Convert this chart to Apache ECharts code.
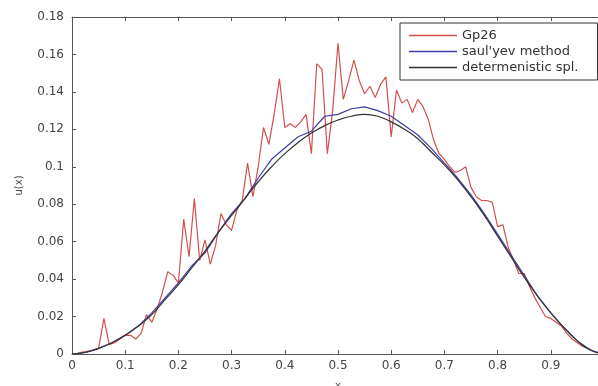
<!DOCTYPE html>
<html>
<head>
<meta charset="utf-8">
<script src="https://cdn.jsdelivr.net/npm/echarts@6/dist/echarts.min.js"></script>
<style>
  html, body { margin: 0; padding: 0; background: #fff; }
  #chart { width: 598px; height: 386px; }
</style>
</head>
<body>
<div id="chart"></div>
<script>
// Gp26 sampled every 0.01 from x = 0 to 1
var gpStep = 0.01;
var gp26 = [
  0, 0.0003, 0.001, 0.0015, 0.002, 0.003, 0.019, 0.005, 0.006, 0.008,
  0.010, 0.010, 0.008, 0.011, 0.021, 0.017, 0.024, 0.033, 0.044, 0.042,
  0.038, 0.072, 0.052, 0.083, 0.050, 0.061, 0.048, 0.058, 0.075, 0.069,
  0.066, 0.077, 0.082, 0.102, 0.084, 0.100, 0.121, 0.112, 0.128, 0.147,
  0.121, 0.123, 0.121, 0.124, 0.128, 0.107, 0.155, 0.152, 0.107, 0.130,
  0.166, 0.136, 0.146, 0.157, 0.146, 0.139, 0.143, 0.137, 0.144, 0.148,
  0.116, 0.141, 0.134, 0.136, 0.129, 0.136, 0.132, 0.125, 0.114, 0.107,
  0.104, 0.100, 0.097, 0.098, 0.100, 0.089, 0.084, 0.082, 0.082, 0.081,
  0.068, 0.069, 0.057, 0.050, 0.043, 0.043, 0.036, 0.030, 0.025, 0.020,
  0.019, 0.017, 0.015, 0.011, 0.008, 0.006, 0.004, 0.003, 0.0015, 0.0005,
  0
];

// saul'yev method and deterministic solution sampled every 0.025
var smoothStep = 0.025;
var saulyev = [
  0, 0.0008, 0.003, 0.006, 0.010, 0.015, 0.022, 0.030, 0.038, 0.047,
  0.054, 0.065, 0.075, 0.083, 0.094, 0.104, 0.110, 0.116, 0.119, 0.127,
  0.128, 0.131, 0.132, 0.130, 0.127, 0.122, 0.117, 0.110, 0.102, 0.094,
  0.085, 0.075, 0.064, 0.053, 0.042, 0.031, 0.022, 0.014, 0.007, 0.002,
  0
];
var deterministic = [
  0, 0.0008, 0.003, 0.006, 0.010, 0.015, 0.021, 0.029, 0.037, 0.046,
  0.055, 0.065, 0.074, 0.083, 0.092, 0.100, 0.107, 0.113, 0.118, 0.122,
  0.125, 0.127, 0.128, 0.127, 0.124, 0.120, 0.115, 0.108, 0.101, 0.093,
  0.084, 0.074, 0.063, 0.052, 0.041, 0.031, 0.022, 0.014, 0.007, 0.002,
  0
];

var seriesNames = ["Gp26", "saul'yev method", "determenistic spl."];

function pairs(values, step) {
  return values.map(function (v, i) {
    return [+(i * step).toFixed(3), v];
  });
}

var chart = echarts.init(document.getElementById("chart"));
var axisColor = "#555";
var labelStyle = { color: "#444", fontSize: 12, fontFamily: "DejaVu Sans" };

var option = {
  animation: false,
  backgroundColor: "#fff",
  textStyle: { fontFamily: "DejaVu Sans" },
  // plot runs past the right edge a little, x = 1 sits just off the picture
  grid: { left: 72, top: 17, width: 532, bottom: 32, outerBoundsMode: "none" },
  legend: {
    data: seriesNames,
    orient: "vertical",
    left: 400,
    top: 23,
    padding: [6, 19, 6, 9],
    icon: "rect",
    itemWidth: 48,
    itemHeight: 1.5,
    itemGap: 3,
    borderColor: "#333",
    borderWidth: 1,
    borderRadius: 0,
    backgroundColor: "#fff",
    textStyle: { color: "#333", fontSize: 13, fontFamily: "DejaVu Sans" }
  },
  xAxis: [
    {
      type: "value",
      min: 0,
      max: 1,
      interval: 0.1,
      name: "x",
      nameLocation: "middle",
      nameGap: 27,
      nameTextStyle: { color: "#444", fontSize: 10 },
      axisLine: { lineStyle: { color: axisColor } },
      axisTick: { inside: true, length: 4, lineStyle: { color: axisColor } },
      axisLabel: Object.assign({ showMaxLabel: false, margin: 6 }, labelStyle),
      splitLine: { show: false }
    },
    {
      type: "value",
      position: "top",
      min: 0,
      max: 1,
      interval: 0.1,
      axisLine: { lineStyle: { color: axisColor } },
      axisTick: { inside: true, length: 4, lineStyle: { color: axisColor } },
      axisLabel: { show: false },
      splitLine: { show: false }
    }
  ],
  yAxis: {
    type: "value",
    min: 0,
    max: 0.18,
    interval: 0.02,
    name: "u(x)",
    nameLocation: "middle",
    nameGap: 48,
    nameTextStyle: { color: "#444", fontSize: 10 },
    axisLine: { show: true, lineStyle: { color: axisColor } },
    axisTick: { show: true, inside: true, length: 4, lineStyle: { color: axisColor } },
    axisLabel: Object.assign({ margin: 8 }, labelStyle),
    splitLine: { show: false }
  },
  series: [
    {
      name: seriesNames[0],
      type: "line",
      symbol: "none",
      data: pairs(gp26, gpStep),
      lineStyle: { color: "#d2504c", width: 1.2 },
      itemStyle: { color: "#d2504c" }
    },
    {
      name: seriesNames[1],
      type: "line",
      symbol: "none",
      data: pairs(saulyev, smoothStep),
      lineStyle: { color: "#3d3fa8", width: 1.2 },
      itemStyle: { color: "#3d3fa8" }
    },
    {
      name: seriesNames[2],
      type: "line",
      symbol: "none",
      smooth: true,
      data: pairs(deterministic, smoothStep),
      lineStyle: { color: "#333", width: 1.2 },
      itemStyle: { color: "#333" }
    }
  ]
};

chart.setOption(option);
</script>
</body>
</html>
